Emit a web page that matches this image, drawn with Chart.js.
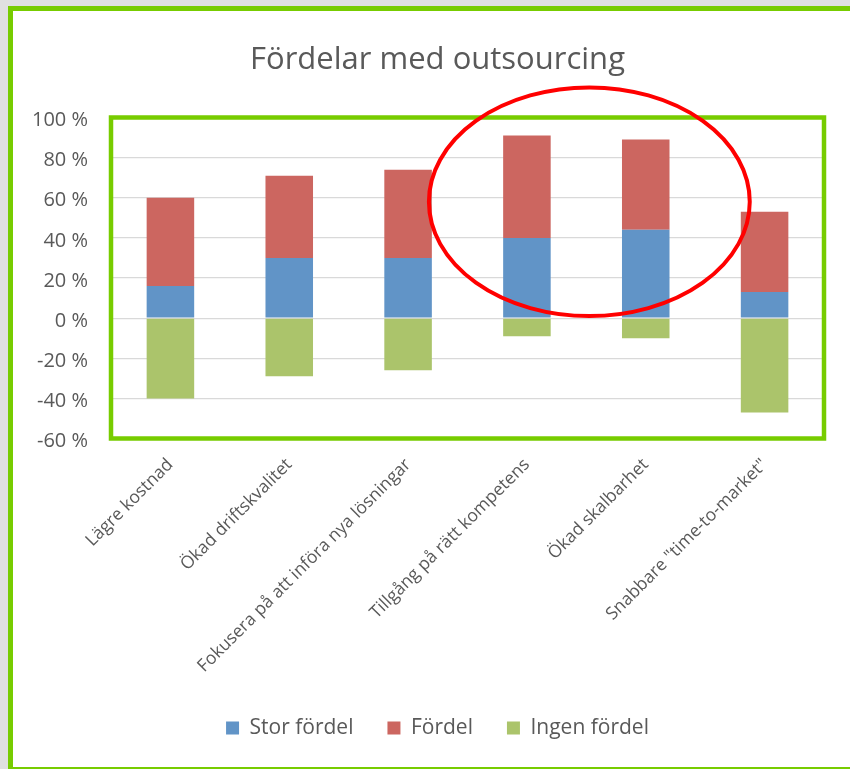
<!DOCTYPE html>
<html>
<head>
<meta charset="utf-8">
<script src="https://cdn.jsdelivr.net/npm/chart.js@4"></script>
<style>
html,body{margin:0;padding:0;background:#e0e0e0;overflow:hidden;}
canvas{display:block;}
</style>
</head>
<body>
<canvas id="c" width="850" height="769"></canvas>
<script>
const categories = [
  'Lägre kostnad',
  'Ökad driftskvalitet',
  'Fokusera på att införa nya lösningar',
  'Tillgång på rätt kompetens',
  'Ökad skalbarhet',
  'Snabbare "time-to-market"'
];
const storFordel = [16, 30, 30, 40, 44, 13];
const fordel = [44, 41, 44, 51, 45, 40];
const ingenFordel = [-40, -29, -26, -9, -10, -47];
const yMin = -60, yMax = 100, yStep = 20;

const FONT = '"Open Sans", "DejaVu Sans", sans-serif';
const TEXT = '#595959';
const GREEN = '#77cc00';

const framePlugin = {
  id: 'frame',
  beforeDraw(chart) {
    const ctx = chart.ctx;
    ctx.save();
    ctx.fillStyle = '#e0e0e0';
    ctx.fillRect(0, 0, 850, 769);
    ctx.fillStyle = GREEN;
    ctx.fillRect(8, 6, 842, 763);
    ctx.fillStyle = '#ffffff';
    ctx.fillRect(13, 11, 837, 756);
    ctx.restore();
  },
  afterDraw(chart) {
    const ctx = chart.ctx;
    const a = chart.chartArea;
    const x = chart.scales.x, y = chart.scales.y;
    ctx.save();
    // plot area frame
    ctx.strokeStyle = GREEN;
    ctx.lineWidth = 4.5;
    ctx.strokeRect(a.left, a.top, a.right - a.left, a.bottom - a.top);
    // red ellipse around categories 4 and 5
    const p3 = x.getPixelForValue(3), p4 = x.getPixelForValue(4);
    const step = p4 - p3;
    const cx = (p3 + p4) / 2 + 3;
    const cy = y.getPixelForValue(58);
    const rx = step * 1.35;
    const ry = Math.abs(y.getPixelForValue(0) - y.getPixelForValue(57));
    ctx.beginPath();
    ctx.ellipse(cx, cy, rx, ry, 0, 0, Math.PI * 2);
    ctx.strokeStyle = '#ff0000';
    ctx.lineWidth = 4;
    ctx.stroke();
    ctx.restore();
  }
};

new Chart(document.getElementById('c'), {
  type: 'bar',
  data: {
    labels: categories,
    datasets: [
      { label: 'Stor fördel', data: storFordel, backgroundColor: '#6194c7' },
      { label: 'Fördel', data: fordel, backgroundColor: '#cc6660' },
      { label: 'Ingen fördel', data: ingenFordel, backgroundColor: '#abc46b' }
    ]
  },
  options: {
    responsive: false,
    animation: false,
    layout: { padding: { left: 28, right: 3, top: 0, bottom: 20.5 } },
    datasets: { bar: { categoryPercentage: 1, barPercentage: 0.4, borderWidth: 0 } },
    plugins: {
      title: {
        display: true,
        text: 'Fördelar med outsourcing',
        color: TEXT,
        font: { family: FONT, size: 31, weight: 'normal' },
        padding: { top: 41.5, bottom: 38.8 }
      },
      legend: {
        position: 'bottom',
        labels: {
          color: TEXT,
          font: { family: FONT, size: 21 },
          boxWidth: 13,
          boxHeight: 13,
          padding: 34
        }
      },
      tooltip: { enabled: false }
    },
    scales: {
      x: {
        stacked: true,
        grid: { display: false },
        border: { display: false },
        ticks: {
          color: TEXT,
          font: { family: FONT, size: 17.5 },
          minRotation: 45,
          maxRotation: 45,
          autoSkip: false,
          padding: 8
        },
        afterFit(scale) { scale.height = 245; }
      },
      y: {
        stacked: true,
        min: yMin,
        max: yMax,
        border: { display: false },
        grid: { color: '#d9d9d9', lineWidth: 1.2, drawTicks: false },
        ticks: {
          stepSize: yStep,
          color: TEXT,
          font: { family: FONT, size: 20 },
          padding: 23,
          labelOffset: 3,
          callback: v => v + ' %'
        },
        afterFit(scale) { scale.width = 83; }
      },
      yRight: {
        position: 'right',
        display: true,
        grid: { display: false, drawTicks: false },
        border: { display: false },
        ticks: { display: false },
        afterFit(scale) { scale.width = 23; }
      }
    }
  },
  plugins: [framePlugin]
});
</script>
</body>
</html>
